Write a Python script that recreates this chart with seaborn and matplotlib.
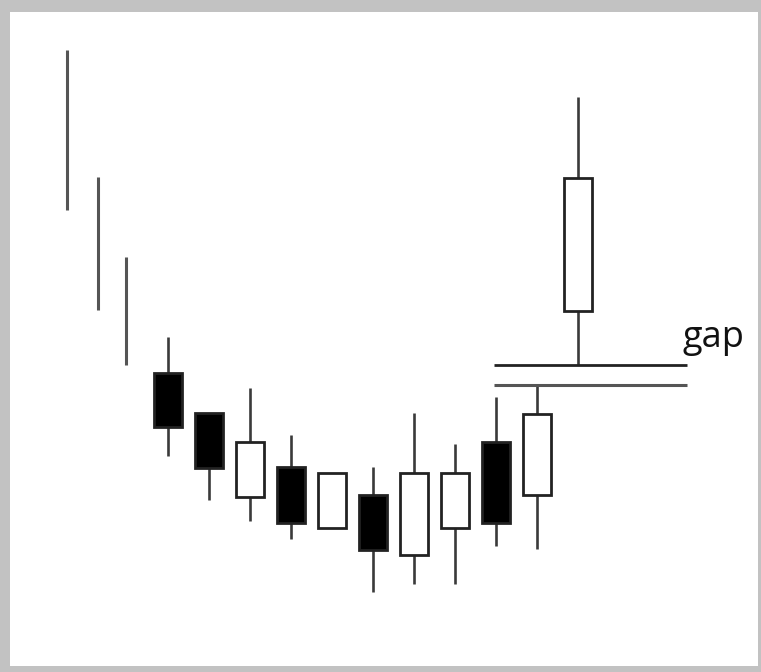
import matplotlib
matplotlib.use("Agg")
import matplotlib.pyplot as plt
from matplotlib.patches import Rectangle
import numpy as np
import pandas as pd
import seaborn as sns

# ---- data ----
positions = [0.54, 1.29, 1.98, 3, 4, 5, 6, 7, 8, 9, 10, 11, 12, 13]
highs  = [62.2, 49.5, 41.5, 33.5, 25.9, 28.4, 23.7, 19.9, 20.5, 25.9, 22.8, 27.5, 28.7, 57.5]
lows   = [46.2, 36.2, 30.7, 21.6, 17.2, 15.1, 13.3, 14.4,  8.0,  8.8,  8.8, 12.6, 12.3, 30.7]
opens  = [np.nan, np.nan, np.nan, 29.9, 25.9, 17.5, 20.5, 14.4, 17.7, 11.7, 14.4, 23.0, 17.7, 36.1]
closes = [np.nan, np.nan, np.nan, 24.5, 20.4, 23.0, 14.9, 19.9, 12.2, 19.9, 19.9, 14.9, 25.8, 49.4]
gap_upper = 30.7   # low of the breakaway candle
gap_lower = 28.7   # high of the previous candle
gap_label = "gap"

df = pd.DataFrame({"x": positions, "high": highs, "low": lows,
                   "open": opens, "close": closes})

sns.set_theme(style="white")
plt.rcParams["font.family"] = ["Open Sans", "DejaVu Sans"]

fig = plt.figure(figsize=(7.61, 6.72), dpi=100, facecolor="white")
ax = fig.add_axes([0, 0, 1, 1])
ax.set_facecolor("white")
ax.set_xlim(-1.098, 17.463)
ax.set_ylim(0, 67.2)
ax.axis("off")

# wicks
wick_only = df["open"].isna()
ax.vlines(df.loc[wick_only, "x"], df.loc[wick_only, "low"], df.loc[wick_only, "high"],
          color="#555555", lw=2.2, zorder=1)
ax.vlines(df.loc[~wick_only, "x"], df.loc[~wick_only, "low"], df.loc[~wick_only, "high"],
          color="#3a3a3a", lw=1.9, zorder=1)

# bodies
bodies = df[~wick_only]
bottoms = np.minimum(bodies["open"], bodies["close"])
heights = np.abs(bodies["close"] - bodies["open"])
colors = np.where(bodies["close"] < bodies["open"], "black", "white")
ax.bar(bodies["x"], heights, bottom=bottoms, width=0.7, color=colors,
       edgecolor="#222222", linewidth=2.0, zorder=2)

# gap lines
ax.hlines(gap_upper, 10.95, 15.66, color="#222222", lw=2.0, zorder=3)
ax.hlines(gap_lower, 10.95, 15.66, color="#555555", lw=2.2, zorder=3)
ax.text(15.54, 32.5, gap_label, fontsize=26, color="#111111",
        ha="left", va="baseline")

# grey frame
W, H = 761.0, 672.0
frame = "#c2c2c2"
for (x0, y0, w, h) in [(0, 0, 10 / W, 1), (0, 1 - 12 / H, 1, 12 / H),
                       (1 - 3 / W, 0, 3 / W, 1), (0, 0, 1, 6 / H)]:
    fig.add_artist(Rectangle((x0, y0), w, h, transform=fig.transFigure,
                             facecolor=frame, edgecolor="none", zorder=10))

fig.savefig("out.png", dpi=100, facecolor="white")
